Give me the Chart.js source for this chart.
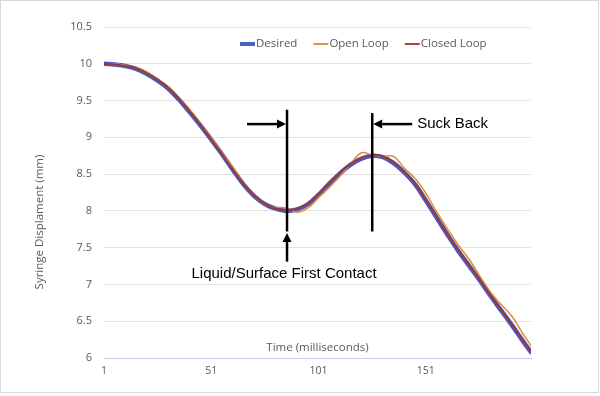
<!DOCTYPE html>
<html><head><meta charset="utf-8">
<script src="https://cdn.jsdelivr.net/npm/chart.js@4.4.1/dist/chart.umd.min.js"></script>
<style>html,body{margin:0;padding:0;background:#fff}#wrap{width:600px;height:396px}</style>
</head><body><div id="wrap"><canvas id="c" width="600" height="396"></canvas></div>
<script>
const timeMs = [1,6,11,16,21,26,31,36,41,46,51,56,61,66,71,76,81,86,91,96,101,106,111,116,121,126,131,136,141,146,151,156,161,166,171,176,181,186,191,196,200];
const desired = [10.00,9.99,9.97,9.93,9.86,9.77,9.66,9.51,9.34,9.16,8.97,8.77,8.56,8.36,8.20,8.09,8.03,8.00,8.02,8.09,8.22,8.37,8.51,8.63,8.71,8.75,8.73,8.65,8.52,8.36,8.14,7.91,7.68,7.46,7.26,7.06,6.85,6.65,6.45,6.24,6.08];
const openLoop = [10.00,10.00,9.98,9.95,9.89,9.79,9.69,9.53,9.38,9.18,9.00,8.79,8.60,8.39,8.21,8.08,8.05,8.04,7.98,8.04,8.18,8.32,8.47,8.64,8.79,8.76,8.74,8.74,8.58,8.44,8.24,7.99,7.76,7.54,7.35,7.12,6.90,6.73,6.57,6.34,6.17];
const closedLoop = [10.00,9.99,9.97,9.94,9.87,9.78,9.67,9.52,9.35,9.17,8.97,8.77,8.56,8.37,8.21,8.09,8.03,8.01,8.03,8.10,8.23,8.38,8.52,8.64,8.72,8.76,8.74,8.66,8.53,8.37,8.15,7.92,7.69,7.47,7.27,7.07,6.86,6.66,6.46,6.25,6.09];
const xTickLabels = [1,51,101,151];
const seriesNames = ['Desired','Open Loop','Closed Loop'];
const seriesColors = ['#4a5cc2','#d4923a','#933a48'];
const legendColors = ['#4a62c0','#c8a040','#a84a3a'];
const seriesWidths = [4.5,1.5,2.2];
const contactTime = 86.3;
const suckBackTime = 126;

const toXY = arr => arr.map((v,i)=>({x:timeMs[i], y:v}));
const TXT = '#595959';

const decor = {
  id:'decor',
  afterDraw(chart){
    const ctx = chart.ctx, ca = chart.chartArea;
    const xs = chart.scales.x, ys = chart.scales.y;
    ctx.save();
    ctx.strokeStyle = '#d9d9d9'; ctx.lineWidth = 1;
    ctx.strokeRect(0.5,0.5,598,392);
    ctx.fillStyle = TXT; ctx.font = '11.5px "Open Sans", sans-serif';
    ctx.textAlign = 'center'; ctx.textBaseline = 'middle';
    ctx.fillText('Time (milliseconds)', (ca.left+ca.right)/2, ca.bottom-10);
    ctx.save(); ctx.translate(40, 222); ctx.rotate(-Math.PI/2);
    ctx.fillText('Syringe Displament (mm)', 0, 0); ctx.restore();
    ctx.font = '11.5px "Open Sans", sans-serif'; ctx.textAlign='left';
    let lx = 240; const ly = 44;
    seriesNames.forEach((n,i)=>{
      ctx.strokeStyle = legendColors[i]; ctx.lineWidth = i===0?4:2;
      ctx.beginPath(); ctx.moveTo(lx,ly); ctx.lineTo(lx+15,ly); ctx.stroke();
      ctx.fillStyle = TXT; ctx.fillText(n, lx+16, ly);
      lx += 16 + ctx.measureText(n).width + 16;
    });
    const xc = xs.getPixelForValue(contactTime), xb = xs.getPixelForValue(suckBackTime);
    ctx.strokeStyle = '#000'; ctx.fillStyle='#000'; ctx.lineWidth = 2.5;
    const vline = (x,y1,y2)=>{ctx.beginPath();ctx.moveTo(x,y1);ctx.lineTo(x,y2);ctx.stroke();};
    vline(xc, ys.getPixelForValue(9.375), ys.getPixelForValue(7.72));
    vline(xb, ys.getPixelForValue(9.33), ys.getPixelForValue(7.72));
    const arrow = (x1,y1,x2,y2)=>{
      const a = Math.atan2(y2-y1,x2-x1), h=9, w=4.5;
      const bx = x2 - h*Math.cos(a), by = y2 - h*Math.sin(a);
      ctx.beginPath(); ctx.moveTo(x1,y1); ctx.lineTo(bx,by); ctx.stroke();
      ctx.beginPath(); ctx.moveTo(x2,y2);
      ctx.lineTo(bx + w*Math.sin(a), by - w*Math.cos(a));
      ctx.lineTo(bx - w*Math.sin(a), by + w*Math.cos(a));
      ctx.closePath(); ctx.fill();
    };
    const ay = ys.getPixelForValue(9.18);
    arrow(xc-40, ay, xc-1, ay);
    arrow(xb+40, ay, xb+1, ay);
    arrow(xc, ys.getPixelForValue(7.31), xc, ys.getPixelForValue(7.70));
    ctx.font = '15px "Liberation Sans", sans-serif'; ctx.textBaseline='middle';
    ctx.textAlign='center';
    ctx.fillText('Liquid/Surface First Contact', xc-3, ys.getPixelForValue(7.147));
    ctx.textAlign='left';
    ctx.fillText('Suck Back', xb+45, ay);
    ctx.restore();
  }
};

new Chart(document.getElementById('c'), {
  type:'line',
  data:{datasets:[
    {label:seriesNames[0], data:toXY(desired), borderColor:seriesColors[0], borderWidth:seriesWidths[0], order:3},
    {label:seriesNames[1], data:toXY(openLoop), borderColor:seriesColors[1], borderWidth:seriesWidths[1], order:2},
    {label:seriesNames[2], data:toXY(closedLoop), borderColor:seriesColors[2], borderWidth:seriesWidths[2], order:1}
  ]},
  options:{
    responsive:false, animation:false, devicePixelRatio:1,
    layout:{padding:{left:0,right:69,top:27,bottom:0}},
    elements:{point:{radius:0}, line:{tension:0.4, borderCapStyle:'round'}},
    plugins:{legend:{display:false}, tooltip:{enabled:false}},
    scales:{
      x:{type:'linear', min:1, max:200,
        afterBuildTicks:s=>{s.ticks = xTickLabels.map(v=>({value:v}));},
        afterFit:s=>{s.height = 38;},
        grid:{display:false, drawTicks:false},
        border:{display:true, color:'#c9cde6', width:1},
        ticks:{color:TXT, font:{family:'Open Sans', size:10.5}, padding:7, autoSkip:false, maxRotation:0}
      },
      y:{min:6, max:10.5,
        afterFit:s=>{s.width = 104;},
        ticks:{stepSize:0.5, color:TXT, font:{family:'Open Sans', size:11}, padding:12, callback:v=>String(+v)},
        grid:{drawTicks:false, color:c=>c.tick && c.tick.value===6 ? '#c9cde6' : '#e3e3e3'},
        border:{display:false}
      }
    }
  },
  plugins:[decor]
});
</script></body></html>
